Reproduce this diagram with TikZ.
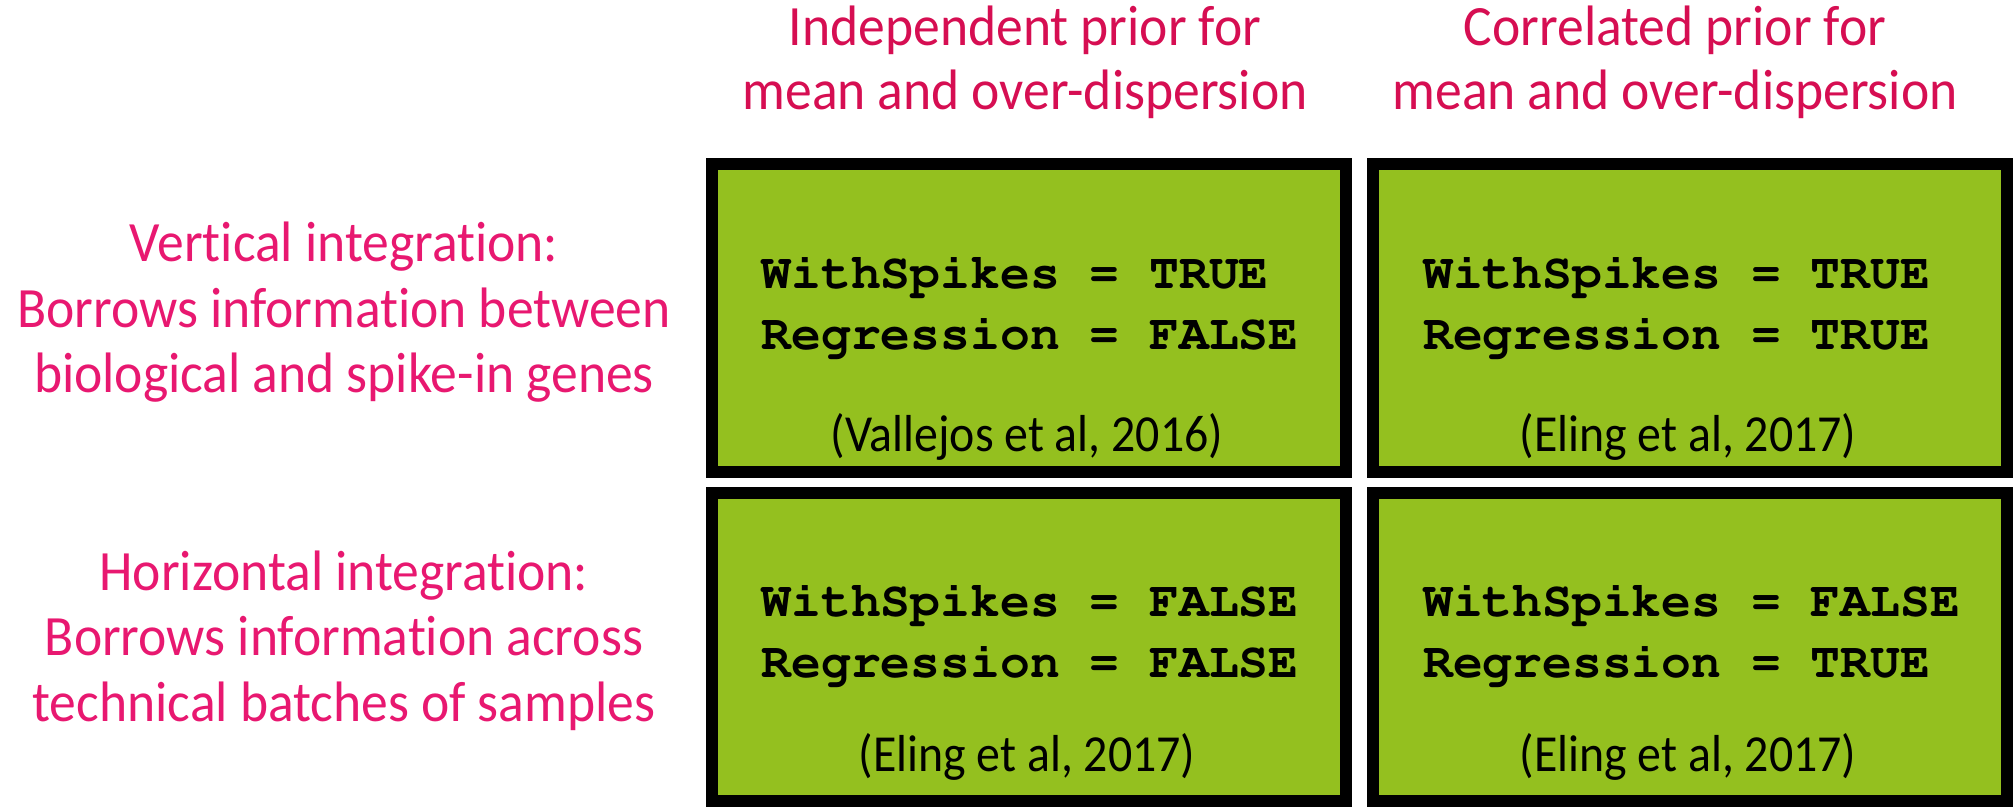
\documentclass[tikz,border=0pt]{standalone}
\usepackage{fontspec}
\newfontfamily\labelfont[FakeStretch=0.94,Ligatures=NoCommon]{Carlito}
\newfontfamily\citefont[FakeStretch=0.92,Ligatures=NoCommon]{Carlito}
\newcommand\couriercode{\fontencoding{T1}\fontfamily{pcr}\fontseries{b}\selectfont}
\definecolor{cellgreen}{RGB}{148,192,31}
\definecolor{rowpink}{RGB}{232,24,112}
\definecolor{colpink}{RGB}{214,14,82}

\begin{document}
\begin{tikzpicture}[x=1pt,y=-1pt,
  cell/.style={draw=black, line width=12pt, fill=cellgreen,
    minimum width=634.4pt, minimum height=308pt, inner sep=0pt, outer sep=0pt},
  codetext/.style={anchor=base west, align=left, inner sep=0pt,
    font=\fontsize{49.7}{61}\couriercode},
  citetext/.style={anchor=base, inner sep=0pt,
    font=\citefont\fontsize{52}{60}\selectfont},
  rowlabel/.style={anchor=base, align=center, inner sep=0pt, text=rowpink,
    font=\labelfont\fontsize{57}{65.5}\selectfont},
  collabel/.style={anchor=base, align=center, inner sep=0pt, text=colpink,
    font=\labelfont\fontsize{57}{65}\selectfont}]
\useasboundingbox (0,0) rectangle (2013,808);

% the four cells of the grid
\node[cell] (c11) at (1028.8,318.3) {};
\node[cell] (c12) at (1690,318.3) {};
\node[cell] (c21) at (1028.8,647.2) {};
\node[cell] (c22) at (1690,647.2) {};

% settings inside each cell (base = last line)
\node[codetext] (k11) at (761.5,349.3) {WithSpikes = TRUE\\Regression = FALSE};
\node[codetext] (k12) at (1423,349.3) {WithSpikes = TRUE\\Regression = TRUE};
\node[codetext] (k21) at (761.5,677.3) {WithSpikes = FALSE\\Regression = FALSE};
\node[codetext] (k22) at (1423,677.3) {WithSpikes = FALSE\\Regression = TRUE};

% references
\node[citetext] (r11) at (1027,451.7) {(Vallejos et al, 2016)};
\node[citetext] (r12) at (1688,451.7) {(Eling et al, 2017)};
\node[citetext] (r21) at (1027,771.7) {(Eling et al, 2017)};
\node[citetext] (r22) at (1688,771.7) {(Eling et al, 2017)};

% column headings
\node[collabel] (h1) at (1025,110) {Independent prior for\\mean and over-dispersion};
\node[collabel] (h2) at (1675,110) {Correlated prior for\\mean and over-dispersion};

% row headings
\node[rowlabel] (v1) at (344,392.7) {Vertical integration:\\Borrows information between\\biological and spike-in genes};
\node[rowlabel] (v2) at (344,721) {Horizontal integration:\\Borrows information across\\technical batches of samples};
\end{tikzpicture}
\end{document}
